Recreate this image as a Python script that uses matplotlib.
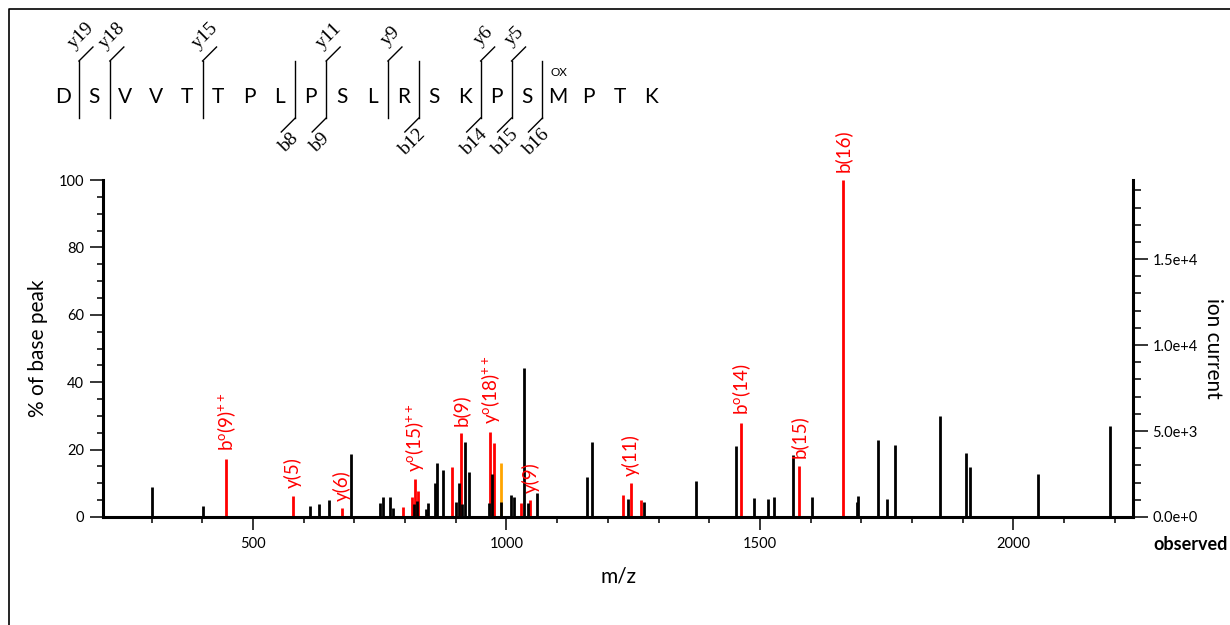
import matplotlib
matplotlib.use('Agg')
import matplotlib.pyplot as plt
from matplotlib.ticker import MultipleLocator

plt.rcParams['font.family'] = ['Lato', 'DejaVu Sans']
plt.rcParams['mathtext.fontset'] = 'custom'
plt.rcParams['mathtext.rm'] = 'Lato'
plt.rcParams['mathtext.it'] = 'Lato:italic'
plt.rcParams['mathtext.bf'] = 'Lato:bold'

# ---------------- data ----------------
sequence = list("DSVVTTPLPSLRSKPSMPTK")
mod_position = 17          # 1-based residue carrying the modification
mod_label = "OX"
y_ions = [19, 18, 15, 11, 9, 6, 5]
b_ions = [8, 9, 12, 14, 15, 16]

black_mz = [300, 401, 612, 630, 649, 694, 751, 756, 771, 777, 818, 824, 842, 846,
            859, 863, 875, 900, 907, 912, 918, 927, 966, 972, 989, 1008, 1015,
            1034, 1042, 1061, 1158, 1168, 1240, 1271, 1374, 1452, 1488, 1516,
            1527, 1565, 1603, 1691, 1694, 1733, 1751, 1766, 1855, 1906, 1915,
            2048, 2190]
black_int = [8.9, 3.3, 3.3, 3.8, 5.0, 18.8, 4.3, 5.8, 5.8, 2.6, 3.8, 4.7, 2.3, 4.1,
             10.2, 16.1, 13.9, 4.5, 10.2, 3.9, 22.2, 13.4, 4.2, 12.7, 4.5, 6.5, 5.8,
             44.2, 4.1, 7.2, 12.0, 22.4, 5.3, 4.5, 10.7, 21.1, 5.5, 5.3,
             5.8, 18.4, 5.8, 4.4, 6.2, 22.8, 5.4, 21.4, 30.0, 19.0, 14.8,
             12.7, 27.0]

red_mz = [447, 579, 676, 795, 813, 819, 825, 892, 910, 968, 976, 1029, 1047,
          1229, 1246, 1265, 1463, 1577, 1664]
red_int = [17.2, 6.2, 2.6, 2.9, 5.8, 11.2, 7.7, 14.7, 24.8, 25.3, 21.9, 4.1, 5.0,
           6.4, 10.0, 4.9, 27.9, 15.1, 100.0]

orange_mz = [990]
orange_int = [15.9]

label_mz = [447, 579, 676, 819, 910, 968, 1047, 1246, 1463, 1577, 1664]
label_int = [17.2, 6.2, 2.6, 11.2, 24.8, 25.3, 5.0, 10.0, 27.9, 15.1, 100.0]
label_text = [r"b$^{\mathrm{o}}$(9)$^{++}$", "y(5)", "y(6)", r"y$^{\mathrm{o}}$(15)$^{++}$",
              "b(9)", r"y$^{\mathrm{o}}$(18)$^{++}$", "y(9)", "y(11)",
              r"b$^{\mathrm{o}}$(14)", "b(15)", "b(16)"]

base_peak_current = 19600
x_range = (204, 2236)

# ---------------- figure ----------------
W, H = 1230, 625
fig = plt.figure(figsize=(W / 100, H / 100), dpi=100)

ax = fig.add_axes([103 / W, 108 / H, 1030 / W, 337 / H])
ax.set_xlim(*x_range)
ax.set_ylim(0, 100)

ax.vlines(red_mz, 0, red_int, colors='#ff0000', lw=2.0, zorder=2)
ax.vlines(orange_mz, 0, orange_int, colors='#ffa500', lw=2.0, zorder=2)
ax.vlines(black_mz, 0, black_int, colors='black', lw=2.0, zorder=3)

for mz, it, t in zip(label_mz, label_int, label_text):
    ax.annotate(t, (mz, it), xytext=(0, 5.5), textcoords='offset points',
                rotation=90, ha='center', va='bottom', color='#ff0000',
                fontsize=13.5, zorder=4)

for s in ['top', 'right']:
    ax.spines[s].set_visible(False)
ax.spines['left'].set_linewidth(2.2)
ax.spines['bottom'].set_linewidth(2.2)

ax.xaxis.set_major_locator(MultipleLocator(500))
ax.xaxis.set_minor_locator(MultipleLocator(100))
ax.yaxis.set_major_locator(MultipleLocator(20))
ax.yaxis.set_minor_locator(MultipleLocator(5))
ax.tick_params(axis='both', which='major', direction='out', length=9.5, width=1.1,
               labelsize=10.5, pad=4)
ax.tick_params(axis='both', which='minor', direction='out', length=4.5, width=1.1)
ax.tick_params(axis='x', which='major', pad=5)

ax.set_xlabel("m/z", fontsize=15, labelpad=11)
ax.set_ylabel("% of base peak", fontsize=15, labelpad=8)

ax2 = ax.twinx()
ax2.set_ylim(0, base_peak_current)
for s in ['top', 'left', 'bottom']:
    ax2.spines[s].set_visible(False)
ax2.spines['right'].set_linewidth(2.2)
ax2.yaxis.set_major_locator(MultipleLocator(5000))
ax2.yaxis.set_minor_locator(MultipleLocator(1000))
ax2.yaxis.set_major_formatter(plt.FuncFormatter(
    lambda v, p: "{:.1e}".format(v).replace("e+0", "e+").replace("e-0", "e-")))
ax2.tick_params(axis='y', which='major', direction='out', length=11, width=1.1,
                labelsize=10.5, pad=3)
ax2.tick_params(axis='y', which='minor', direction='out', length=6, width=1.1)
ax2.set_ylabel("ion current", fontsize=15, rotation=270, labelpad=18)

fig.text(1153 / W, 1 - 545 / H, "observed", fontweight='bold', fontsize=13,
         ha='left', va='center')

# ---------------- header (peptide sequence with fragment marks) ----------------
hax = fig.add_axes([0, 0, 1, 1], zorder=-1)
hax.set_xlim(0, W)
hax.set_ylim(H, 0)
hax.axis('off')

# figure frame (top and left edges)
hax.plot([9, 9, W], [H, 9, 9], color='black', lw=1.2)

x0, dx, yc = 63.5, 30.9, 97
y_top, y_bot, diag = 61, 118, 14
perp_y, perp_b = 16.0, 13.0
r2 = 2 ** 0.5
n = len(sequence)
for i, aa in enumerate(sequence):
    hax.text(x0 + i * dx, yc, aa, ha='center', va='center', fontsize=15)
mx = x0 + (mod_position - 1) * dx
hax.text(mx + 1, yc - 24, mod_label, ha='center', va='center', fontsize=8.5)

cuts = set([n - k for k in y_ions]) | set(b_ions)
for k in cuts:
    cx = x0 + (k - 1) * dx + dx / 2
    hax.plot([cx, cx], [y_top, y_bot], color='black', lw=1.0)
for k in y_ions:
    cx = x0 + (n - k - 1) * dx + dx / 2
    ex, ey = cx + diag, y_top - diag
    hax.plot([cx, ex], [y_top, ey], color='black', lw=1.0)
    hax.text(ex - perp_y / r2, ey - perp_y / r2, "y%d" % k, rotation=45,
             rotation_mode='anchor', ha='center', va='center',
             family='Liberation Serif', fontsize=14)
for k in b_ions:
    cx = x0 + (k - 1) * dx + dx / 2
    ex, ey = cx - diag, y_bot + diag
    hax.plot([cx, ex], [y_bot, ey], color='black', lw=1.0)
    hax.text(ex + perp_b / r2 - 1.5, ey + perp_b / r2 + 1.5, "b%d" % k, rotation=45,
             rotation_mode='anchor', ha='center', va='center',
             family='Liberation Serif', fontsize=14)

fig.savefig("out.png", dpi=100)
